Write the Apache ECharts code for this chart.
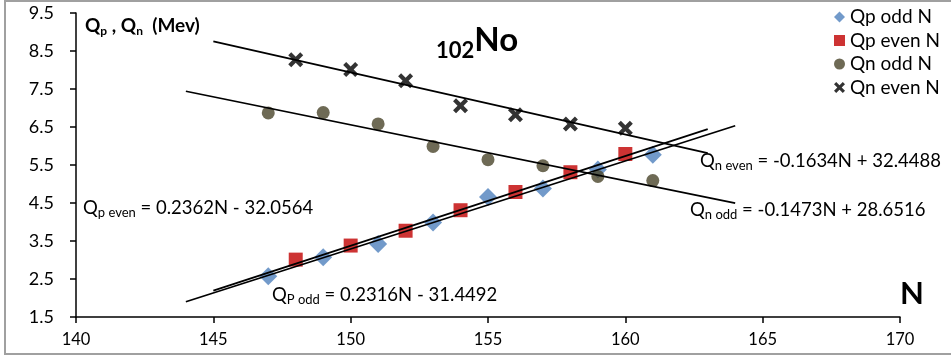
<!DOCTYPE html>
<html>
<head>
<meta charset="utf-8">
<script src="https://cdn.jsdelivr.net/npm/echarts@6/dist/echarts.min.js"></script>
<style>
  html, body { margin: 0; padding: 0; background: #fff; }
  #chart { width: 951px; height: 358px; }
</style>
</head>
<body>
<div id="chart"></div>
<script>
// Neutron numbers (odd / even)
var nOdd  = [147, 149, 151, 153, 155, 157, 159, 161];
var nEven = [148, 150, 152, 154, 156, 158, 160];

// Separation energies, MeV
var qpOdd  = [2.57, 3.07, 3.42, 3.99, 4.66, 4.88, 5.38, 5.77];
var qpEven = [3.01, 3.38, 3.77, 4.31, 4.79, 5.31, 5.79];
var qnOdd  = [6.87, 6.88, 6.58, 5.99, 5.64, 5.48, 5.20, 5.09];
var qnEven = [8.27, 8.01, 7.72, 7.06, 6.82, 6.58, 6.47];

// Linear fits: Q = slope * N + intercept, drawn between fitFrom and fitTo
var fitNames      = ['Qp odd fit', 'Qp even fit', 'Qn odd fit', 'Qn even fit'];
var fitSlopes     = [0.2316, 0.2362, -0.1473, -0.1634];
var fitIntercepts = [-31.4492, -32.0564, 28.6516, 32.4488];
var fitFrom       = [144, 145, 144, 145];
var fitTo         = [164, 163, 164, 163];

// Axis ticks
var xTicks = [140, 145, 150, 155, 160, 165, 170];
var yTicks = [1.5, 2.5, 3.5, 4.5, 5.5, 6.5, 7.5, 8.5, 9.5];

var FONT = 'Lato, "Open Sans", sans-serif';
var crossPath = 'path://M0,2L2,0L5,3L8,0L10,2L7,5L10,8L8,10L5,7L2,10L0,8L3,5Z';

function pairs(xs, ys) {
  return xs.map(function (x, i) { return [x, ys[i]]; });
}

var series = [
  { name: 'Qp odd N',  type: 'scatter', symbol: 'diamond', symbolSize: 18,
    itemStyle: { color: '#4F81BD' }, data: pairs(nOdd, qpOdd), z: 3 },
  { name: 'Qp even N', type: 'scatter', symbol: 'rect', symbolSize: 14,
    itemStyle: { color: '#C00000' }, data: pairs(nEven, qpEven), z: 3 },
  { name: 'Qn odd N',  type: 'scatter', symbol: 'circle', symbolSize: 13,
    itemStyle: { color: '#4A452A' }, data: pairs(nOdd, qnOdd), z: 3 },
  { name: 'Qn even N', type: 'scatter', symbol: crossPath, symbolSize: 15,
    itemStyle: { color: '#000' }, data: pairs(nEven, qnEven), z: 3 }
];

fitNames.forEach(function (name, i) {
  var a = fitSlopes[i], b = fitIntercepts[i];
  series.push({
    name: name, type: 'line', showSymbol: false, silent: true, z: 4,
    lineStyle: { color: '#000', width: 1.75 },
    data: [[fitFrom[i], a * fitFrom[i] + b], [fitTo[i], a * fitTo[i] + b]]
  });
});

var sub = { fontSize: 13, fontFamily: FONT, fill: '#000', padding: [9, 0, 0, 0] };

function eqText(x, y, str) {
  return {
    type: 'text', x: x, y: y, z: 10,
    style: {
      text: str, font: '18.5px ' + FONT, fill: '#000',
      verticalAlign: 'middle',
      rich: { s: sub }
    }
  };
}

var chart = echarts.init(document.getElementById('chart'), null, { renderer: 'canvas' });
chart.setOption({
  backgroundColor: '#fff',
  animation: false,
  grid: { left: 76, right: 51, top: 13, bottom: 41 },
  legend: {
    data: ['Qp odd N', 'Qp even N', 'Qn odd N', 'Qn even N'],
    orient: 'vertical', left: 829, top: 2,
    itemWidth: 11, itemHeight: 11, itemGap: 3.5,
    textStyle: { fontSize: 19, fontFamily: FONT, color: '#000', lineHeight: 20 }
  },
  xAxis: {
    type: 'value', min: 140, max: 170, interval: 5,
    axisLine: { lineStyle: { color: '#000', width: 1.5 } },
    axisTick: { show: true, length: 6, lineStyle: { color: '#000', width: 1.5 }, customValues: xTicks },
    axisLabel: { fontSize: 16.5, fontFamily: FONT, color: '#000', margin: 14, customValues: xTicks },
    splitLine: { show: false }
  },
  yAxis: {
    type: 'value', min: 1.5, max: 9.5,
    axisLine: { show: true, lineStyle: { color: '#000', width: 1.5 } },
    axisTick: { show: true, length: 6, lineStyle: { color: '#000', width: 1.5 }, customValues: yTicks },
    axisLabel: { fontSize: 18, fontFamily: FONT, color: '#000', margin: 22, customValues: yTicks,
      formatter: function (v) { return v.toFixed(1); } },
    splitLine: { show: false }
  },
  graphic: [
    { type: 'rect', shape: { x: 5, y: 1, width: 960, height: 353 }, z: 20, silent: true,
      style: { fill: 'none', stroke: '#a0a0a0', lineWidth: 2 } },
    {
      type: 'text', x: 85, y: 26, z: 10,
      style: {
        text: 'Q{b|p} , Q{b|n}  (Mev)', font: 'bold 19px ' + FONT, fill: '#000',
        verticalAlign: 'middle',
        rich: { b: { fontSize: 12, fontWeight: 'bold', fontFamily: FONT, fill: '#000', padding: [10, 0, 0, 0] } }
      }
    },
    {
      type: 'text', x: 436, y: 40, z: 10,
      style: {
        text: '{s|102}{n|No}', fill: '#000', verticalAlign: 'middle',
        rich: {
          s: { fontSize: 22, fontWeight: 'bold', fontFamily: FONT, fill: '#000', padding: [22, 0, 0, 0] },
          n: { fontSize: 33, fontWeight: 'bold', fontFamily: FONT, fill: '#000' }
        }
      }
    },
    {
      type: 'text', x: 900, y: 294, z: 10,
      style: { text: 'N', font: 'bold 31px ' + FONT, fill: '#000', verticalAlign: 'middle' }
    },
    eqText(83, 208, 'Q{s|p even} = 0.2362N - 32.0564'),
    eqText(272, 295, 'Q{s|P odd} = 0.2316N - 31.4492'),
    eqText(700, 161, 'Q{s|n even} = -0.1634N + 32.4488'),
    eqText(690, 210, 'Q{s|n odd} = -0.1473N + 28.6516')
  ],
  series: series
});
</script>
</body>
</html>
